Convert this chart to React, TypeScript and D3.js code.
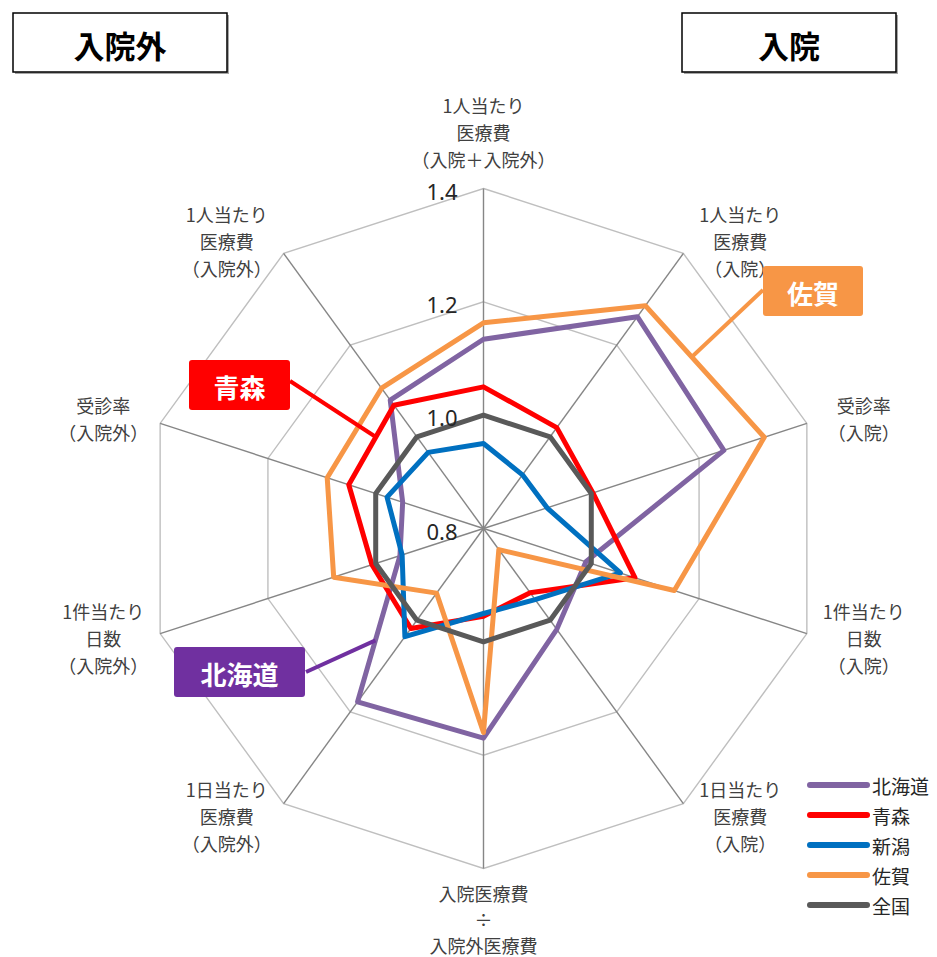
import React, { useEffect, useRef } from 'react';
import * as d3 from 'd3';

// axis labels, clockwise from the top
const axisLabels: string[][] = [
  ['1人当たり', '医療費', '（入院＋入院外）'],
  ['1人当たり', '医療費', '（入院）'],
  ['受診率', '（入院）'],
  ['1件当たり', '日数', '（入院）'],
  ['1日当たり', '医療費', '（入院）'],
  ['入院医療費', '÷', '入院外医療費'],
  ['1日当たり', '医療費', '（入院外）'],
  ['1件当たり', '日数', '（入院外）'],
  ['受診率', '（入院外）'],
  ['1人当たり', '医療費', '（入院外）'],
];

const seriesNames = ['北海道', '青森', '新潟', '佐賀', '全国'];
const hokkaido = [1.134, 1.262, 1.246, 0.99, 1.02, 1.17, 1.178, 0.955, 0.95, 1.08];
const aomori = [1.05, 1.02, 1.003, 1.081, 0.94, 0.955, 1.018, 1.007, 1.05, 1.069];
const niigata = [0.95, 0.917, 0.918, 1.054, 0.955, 0.95, 1.036, 0.951, 0.979, 0.966];
const saga = [1.163, 1.286, 1.321, 1.154, 0.846, 1.16, 0.941, 1.078, 1.09, 1.106];
const zenkoku = [1.0, 1.0, 1.0, 1.0, 1.0, 1.0, 1.0, 1.0, 1.0, 1.0];
const tickValues = [0.8, 1.0, 1.2, 1.4];
const tickLabels = ['0.8', '1.0', '1.2', '1.4'];

const seriesValues = [hokkaido, aomori, niigata, saga, zenkoku];
const seriesColors = ['#8064a2', '#ff0000', '#0070c0', '#f79646', '#595959'];

const width = 937;
const height = 957;
const cx = 483.5;
const cy = 528.5;
const outerRadius = 340;
const labelFont = '"Noto Sans CJK JP", "Noto Sans", sans-serif';

const RadarChart = () => {
  const ref = useRef<SVGSVGElement>(null);

  function drawChart() {
    const svg = d3.select(ref.current);
    svg.selectAll('*').remove();

    const n = axisLabels.length;
    const angle = (i: number) => (i * 2 * Math.PI) / n;
    const r = d3.scaleLinear().domain([0.8, 1.4]).range([0, outerRadius]);
    const point = (i: number, v: number): [number, number] => [
      cx + r(v) * Math.sin(angle(i)),
      cy - r(v) * Math.cos(angle(i)),
    ];

    const radial = d3
      .lineRadial<number>()
      .angle((_, i) => angle(i))
      .radius((d) => r(d))
      .curve(d3.curveLinearClosed);

    const g = svg.append('g').attr('transform', `translate(${cx}, ${cy})`);

    // rings
    tickValues
      .filter((t) => t > 0.8)
      .forEach((t) => {
        g.append('path')
          .attr('d', radial(d3.range(n).map(() => t)))
          .attr('fill', 'none')
          .attr('stroke', '#bfbfbf')
          .attr('stroke-width', 1.4);
      });

    // spokes
    d3.range(n).forEach((i) => {
      const [x, y] = point(i, 1.4);
      g.append('line')
        .attr('x1', 0)
        .attr('y1', 0)
        .attr('x2', x - cx)
        .attr('y2', y - cy)
        .attr('stroke', '#868686')
        .attr('stroke-width', 1.4);
    });

    // tick labels along the first axis
    tickValues.forEach((t, i) => {
      svg
        .append('text')
        .attr('x', cx - 26)
        .attr('y', cy - r(t) + 2)
        .attr('text-anchor', 'end')
        .attr('dominant-baseline', 'central')
        .style('font-family', '"Noto Sans", sans-serif')
        .style('font-size', '22px')
        .style('fill', '#262626')
        .text(tickLabels[i]);
    });

    // series
    seriesValues.forEach((vals, k) => {
      g.append('path')
        .attr('d', radial(vals))
        .attr('fill', 'none')
        .attr('stroke', seriesColors[k])
        .attr('stroke-width', 5)
        .attr('stroke-linejoin', 'round');
    });

    // axis labels
    axisLabels.forEach((lines, i) => {
      const [vx, vy] = point(i, 1.4);
      const s = Math.sin(angle(i));
      const c = Math.cos(angle(i));
      const vertical = Math.abs(s) < 0.01;
      const lx = vertical ? vx : vx + Math.sign(s) * 57;
      const ly = vertical ? vy - c * (c > 0 ? 57 : 50) : vy - c * 15;
      const lineH = vertical && c < 0 ? 26 : 27;
      const text = svg
        .append('text')
        .attr('text-anchor', 'middle')
        .style('font-family', labelFont)
        .style('font-size', '18px')
        .style('fill', '#404040');
      lines.forEach((l, j) => {
        text
          .append('tspan')
          .attr('x', lx)
          .attr('y', ly + (j - (lines.length - 1) / 2) * lineH)
          .attr('dominant-baseline', 'central')
          .text(l);
      });
    });

    // title boxes
    const titles = [
      { text: '入院外', x: 13, y: 13 },
      { text: '入院', x: 682, y: 13 },
    ];
    titles.forEach((t) => {
      svg
        .append('rect')
        .attr('x', t.x + 2)
        .attr('y', t.y + 2)
        .attr('width', 214)
        .attr('height', 59)
        .attr('fill', '#a6a6a6');
      svg
        .append('rect')
        .attr('x', t.x)
        .attr('y', t.y)
        .attr('width', 214)
        .attr('height', 59)
        .attr('fill', '#fff')
        .attr('stroke', '#000')
        .attr('stroke-width', 1.5);
      svg
        .append('text')
        .attr('x', t.x + 107)
        .attr('y', t.y + 31)
        .attr('text-anchor', 'middle')
        .attr('dominant-baseline', 'central')
        .style('font-family', labelFont)
        .style('font-size', '31px')
        .style('font-weight', 700)
        .style('fill', '#000')
        .text(t.text);
    });

    // callouts with leader lines to a series segment
    const callouts = [
      { series: 1, fill: '#ff0000', box: [189, 360, 101, 50], start: [290, 381], from: 9, to: 8, t: 0.4 },
      { series: 0, fill: '#7030a0', box: [174, 647, 131, 50], start: [306, 672], from: 7, to: 6, t: 0.58 },
      { series: 3, fill: '#f79646', box: [763, 266, 100, 50], start: [763, 290], from: 1, to: 2, t: 0.39 },
    ];
    callouts.forEach((co) => {
      const vals = seriesValues[co.series];
      const a = point(co.from, vals[co.from]);
      const b = point(co.to, vals[co.to]);
      const end = d3.interpolateArray(a, b)(co.t);
      svg
        .append('line')
        .attr('x1', co.start[0])
        .attr('y1', co.start[1])
        .attr('x2', end[0])
        .attr('y2', end[1])
        .attr('stroke', co.fill)
        .attr('stroke-width', 4);
      const [bx, by, bw, bh] = co.box;
      svg
        .append('rect')
        .attr('x', bx)
        .attr('y', by)
        .attr('width', bw)
        .attr('height', bh)
        .attr('rx', 3)
        .attr('fill', co.fill);
      svg
        .append('text')
        .attr('x', bx + bw / 2)
        .attr('y', by + bh / 2 + 1)
        .attr('text-anchor', 'middle')
        .attr('dominant-baseline', 'central')
        .style('font-family', labelFont)
        .style('font-size', '26px')
        .style('font-weight', 700)
        .style('fill', '#fff')
        .text(seriesNames[co.series]);
    });

    // legend
    const legend = svg.append('g').attr('transform', 'translate(810, 785)');
    seriesNames.forEach((name, k) => {
      legend
        .append('line')
        .attr('x1', 0)
        .attr('x2', 57)
        .attr('y1', k * 30)
        .attr('y2', k * 30)
        .attr('stroke', seriesColors[k])
        .attr('stroke-width', 6)
        .attr('stroke-linecap', 'round');
      legend
        .append('text')
        .attr('x', 62)
        .attr('y', k * 30)
        .attr('dominant-baseline', 'central')
        .style('font-family', labelFont)
        .style('font-size', '19px')
        .style('fill', '#262626')
        .text(name);
    });
  }

  useEffect(() => {
    drawChart();
  }, []);

  return (
    <svg
      ref={ref}
      width={width}
      height={height}
      style={{ position: 'absolute', left: 0, top: 0, background: '#fff' }}
    />
  );
};

export default function App() {
  return <RadarChart />;
}
